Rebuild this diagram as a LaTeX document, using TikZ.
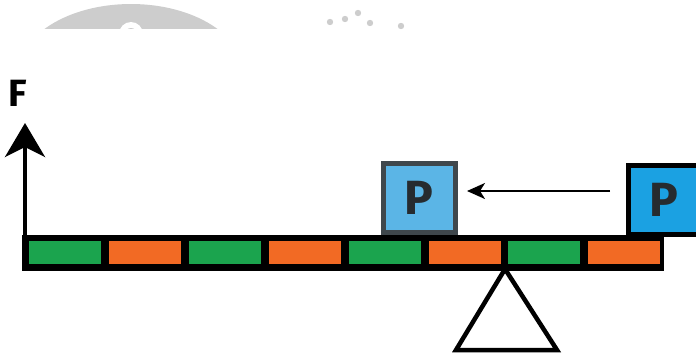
\documentclass[tikz,border=0pt]{standalone}
\usepackage{fontspec}
\setsansfont{Fira Sans}
\usetikzlibrary{arrows.meta}
\definecolor{bargreen}{HTML}{1BA44E}
\definecolor{barorange}{HTML}{F26A24}
\definecolor{lightblue}{HTML}{5BB5E6}
\definecolor{brightblue}{HTML}{1BA1E2}
\definecolor{boxgrey}{HTML}{3F474C}
\definecolor{ptext}{HTML}{262B2F}
\definecolor{wm}{HTML}{CDCDCD}
\tikzset{
  pbox/.style={line width=5pt, minimum width=72pt, minimum height=69pt, inner sep=0pt,
    text=ptext, font=\sffamily\bfseries\fontsize{48}{48}\selectfont},
}
\begin{document}
\begin{tikzpicture}[x=1pt,y=-1pt]
\useasboundingbox (0,0) rectangle (696,362);
% faint watermark at top
\begin{scope}
\clip (0,0) rectangle (696,28);
\fill[wm] (131,74) ellipse [x radius=113, y radius=70];
\fill[white] (131,34) circle [radius=12];
\fill[wm] (131,34) circle [radius=6];
\end{scope}
\foreach \p in {(330,22),(345,19),(358,13),(370,23),(401,26)}
  \fill[wm] \p circle [radius=3.2];
% beam
\node[draw=black, fill=black, line width=0pt, minimum width=641pt, minimum height=35pt, inner sep=0pt, anchor=north west] (beam) at (22,235) {};
\foreach \i/\c in {0/bargreen,1/barorange,2/bargreen,3/barorange,4/bargreen,5/barorange,6/bargreen,7/barorange}{
  \fill[\c] ({29+\i*79.9},241) rectangle ({101+\i*79.9},264);
}
% force arrow
\coordinate (ftop) at (25,123);
\draw[line width=4pt, -{Stealth[length=34pt,width=40pt,inset=10pt]}] (25,270) -- (ftop);
\node[font=\sffamily\bfseries\fontsize{38}{38}\selectfont, anchor=center] (F) at (18,93) {F};
% boxes
\node[pbox, draw=boxgrey, fill=lightblue, anchor=north west] (p1) at (380.5,160.5) {P};
\node[pbox, draw=black, fill=brightblue, anchor=north west] (p2) at (625.5,162.5) {P};
% arrow between boxes
\coordinate (astart) at (610,191);
\coordinate (aend) at (467,191);
\draw[line width=2.2pt, -{Stealth[length=18pt,width=16pt,inset=5pt]}] (astart) -- (aend);
% fulcrum
\coordinate (apex) at (505,269);
\draw[line width=4.5pt, line join=miter] (apex) -- (557,350) -- (456,350) -- cycle;
\end{tikzpicture}
\end{document}
